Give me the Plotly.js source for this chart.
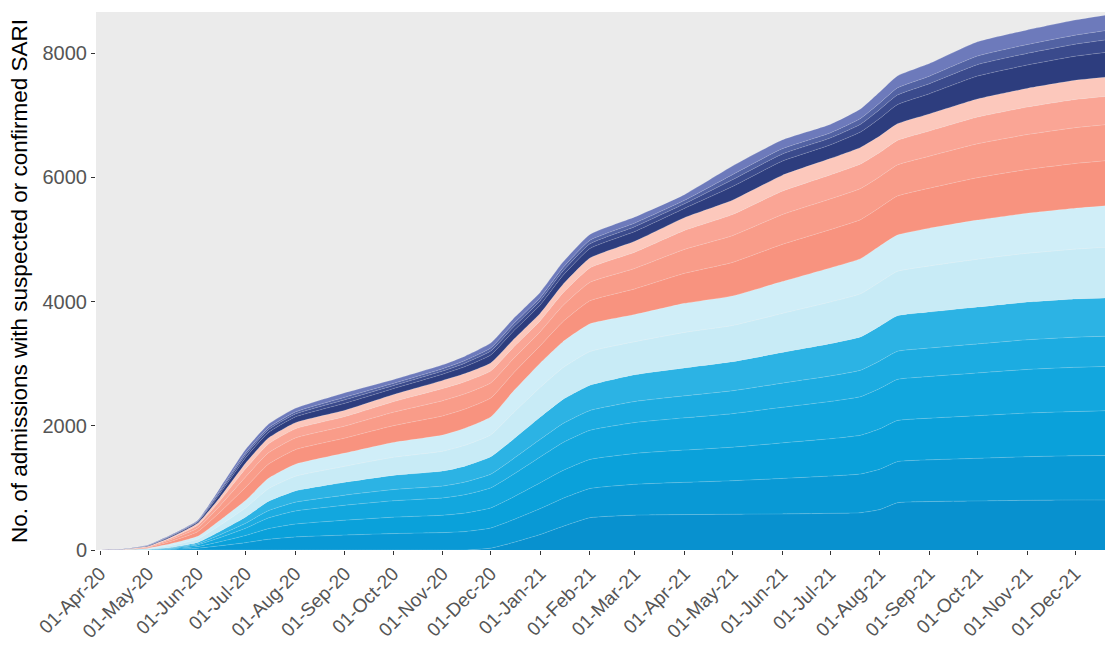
<!DOCTYPE html>
<html>
<head>
<meta charset="utf-8">
<script src="https://cdn.plot.ly/plotly-3.0.1.min.js"></script>
<style>html,body{margin:0;padding:0;background:#fff;}#chart{width:1105px;height:647px;}</style>
</head>
<body>
<div id="chart"></div>
<script>
// Dates of the read-off points
const dates = ["2020-04-01","2020-04-15","2020-05-01","2020-05-15","2020-06-01","2020-06-15","2020-07-01","2020-07-15","2020-08-01","2020-09-01","2020-10-01","2020-11-01","2020-11-15","2020-12-01","2020-12-15","2021-01-01","2021-01-15","2021-02-01","2021-03-01","2021-04-01","2021-05-01","2021-06-01","2021-07-01","2021-07-20","2021-08-01","2021-08-12","2021-09-01","2021-10-01","2021-11-01","2021-12-01","2021-12-20"];

// Blue bands (bottom to top)
const blue1 = [0,0,0,0,0,0,0,0,0,0,0,0,0,30,120,250,380,520,560,570,575,580,590,600,650,760,780,790,800,805,805];
const blue2 = [0,0,3,10,28,68,118,172,210,240,264,280,297,323,365,416,449,469,497,519,540,572,600,623,650,662,671,686,702,712,717];
const blue3 = [0,0,2,9,27,66,116,170,208,240,264,279,297,324,365,416,449,468,497,519,540,572,600,623,650,662,671,686,702,712,720];
const blue4 = [0,0,2,9,27,66,117,172,210,240,264,280,297,323,365,416,449,469,497,519,540,572,601,622,650,662,671,687,702,712,712];
const blue5 = [0,0,1,6,18,45,80,117,142,163,180,190,203,220,250,283,306,319,339,354,368,390,410,425,443,452,458,468,478,485,487];
const blue6 = [0,0,2,6,20,55,99,149,180,207,228,241,256,280,315,359,387,405,430,449,467,494,519,537,560,572,579,593,606,614,614];
// Light cyan bands
const cyan1 = [0,3,11,33,55,99,148,203,236,258,291,319,335,352,423,478,511,544,533,572,583,627,671,693,710,715,742,770,786,803,817];
const cyan2 = [0,2,9,27,45,81,122,167,194,212,239,261,275,288,347,392,419,446,437,468,477,513,549,567,580,585,608,630,644,657,668];
// Salmon bands
const salmon1 = [0,2,11,35,74,130,210,228,235,242,270,308,308,305,291,280,322,371,413,483,539,599,616,627,620,627,644,683,704,721,725];
const salmon2 = [0,1,8,28,59,104,168,182,188,193,216,246,246,244,232,224,258,297,330,386,431,479,493,501,496,501,515,546,563,577,580];
const salmon3 = [0,1,7,22,46,81,132,143,147,152,169,194,194,191,183,176,202,233,260,304,339,376,387,394,389,394,405,429,442,453,455];
const salmon4 = [0,1,4,15,31,55,90,97,100,103,115,132,132,130,124,120,138,159,177,207,231,256,264,268,265,268,276,292,301,309,310];
// Navy / purple bands
const navy1 = [0,2,8,16,20,60,88,88,92,112,96,100,112,128,136,136,144,152,156,148,220,228,220,248,284,308,324,368,376,388,400];
const navy2 = [0,1,4,8,10,30,44,44,46,56,48,50,56,64,68,68,72,76,78,74,110,114,110,124,142,154,162,184,188,194,200];
const purple1 = [0,1,3,6,8,22,33,33,35,42,36,37,42,48,51,51,54,57,58,56,82,85,82,93,106,115,121,138,141,145,150];
const purple2 = [0,1,5,10,12,38,55,55,57,70,60,63,70,80,85,85,90,95,98,92,138,143,138,155,178,193,203,230,235,243,250];

const tickDates = ["2020-04-01","2020-05-01","2020-06-01","2020-07-01","2020-08-01","2020-09-01","2020-10-01","2020-11-01","2020-12-01","2021-01-01","2021-02-01","2021-03-01","2021-04-01","2021-05-01","2021-06-01","2021-07-01","2021-08-01","2021-09-01","2021-10-01","2021-11-01","2021-12-01"];
const yTicks = [0,2000,4000,6000,8000];

const series = [
  [blue1, "#0891cf"], [blue2, "#0999d5"], [blue3, "#0aa1da"], [blue4, "#12a7de"], [blue5, "#1cace1"], [blue6, "#2cb3e4"],
  [cyan1, "#c8ebf6"], [cyan2, "#d0eef8"],
  [salmon1, "#f8937f"], [salmon2, "#f99c89"], [salmon3, "#faa595"], [salmon4, "#fcc8bc"],
  [navy1, "#2d3d7e"], [navy2, "#3a4a8c"], [purple1, "#5262a3"], [purple2, "#6d7abb"]
];

const traces = series.map(([vals, col]) => ({
  type: "scatter", mode: "lines", x: dates, y: vals, stackgroup: "one",
  line: {shape: "spline", smoothing: 0.45, width: 0.6, color: "rgba(255,255,255,0.25)"},
  fillcolor: col, hoverinfo: "skip", showlegend: false
}));

const layout = {
  width: 1105, height: 647,
  paper_bgcolor: "#ffffff", plot_bgcolor: "#EBEBEB",
  margin: {l: 96, r: 0, t: 12, b: 97},
  showlegend: false, hovermode: false,
  font: {family: "Liberation Sans, Arial, sans-serif"},
  xaxis: {
    type: "date", range: ["2020-03-29 12:00", "2021-12-19 17:00"],
    tickvals: tickDates, tickformat: "%d-%b-%y", tickangle: -45,
    ticks: "outside", ticklen: 4, tickwidth: 1, tickcolor: "#333333",
    tickfont: {size: 19, color: "#555555"},
    showgrid: false, zeroline: false, showline: false, automargin: false
  },
  yaxis: {
    range: [0, 8660], tickvals: yTicks, ticktext: yTicks.map(String),
    ticks: "outside", ticklen: 4, tickwidth: 1, tickcolor: "#333333",
    tickfont: {size: 20, color: "#555555"},
    showgrid: false, zeroline: false, showline: false, automargin: false,
    title: {text: "No. of admissions with suspected or confirmed SARI", font: {size: 22.5, color: "#000000"}, standoff: 8}
  }
};

Plotly.newPlot("chart", traces, layout, {staticPlot: true, displayModeBar: false});
</script>
</body>
</html>
